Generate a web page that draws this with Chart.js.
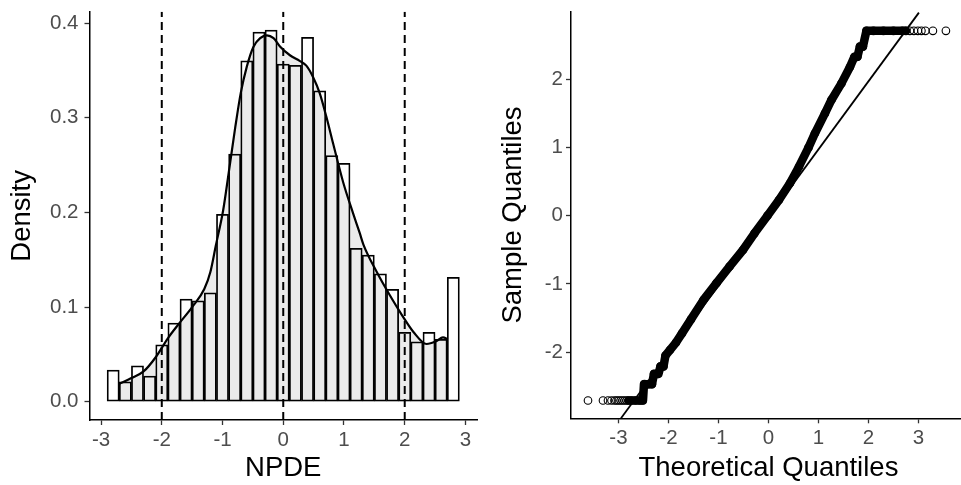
<!DOCTYPE html>
<html><head><meta charset="utf-8">
<script src="https://cdn.jsdelivr.net/npm/chart.js@4.4.0/dist/chart.umd.min.js"></script>
<style>
html,body{margin:0;padding:0;background:#fff;overflow:hidden;width:961px;height:485px}
#wrap{position:relative;width:961px;height:485px;overflow:hidden;background:#fff}
#c1{position:absolute;left:0;top:0}
#c2{position:absolute;left:480px;top:0}
</style></head><body>
<div id="wrap">
<canvas id="c1" width="480" height="485" style="width:480px;height:485px"></canvas>
<canvas id="c2" width="491" height="485" style="width:491px;height:485px"></canvas>
</div>
<script>
// ---------- Histogram panel data ----------
const binCenters = [-2.8,-2.6,-2.4,-2.2,-2.0,-1.8,-1.6,-1.4,-1.2,-1.0,-0.8,-0.6,-0.4,-0.2,0.0,0.2,0.4,0.6,0.8,1.0,1.2,1.4,1.6,1.8,2.0,2.2,2.4,2.6,2.8];
const binDensity = [0.0335,0.021,0.038,0.027,0.060,0.083,0.1085,0.1067,0.115,0.198,0.2616,0.360,0.3905,0.3926,0.3567,0.3553,0.3849,0.3285,0.260,0.2518,0.162,0.155,0.135,0.1187,0.0732,0.0634,0.0732,0.066,0.1314];
const densX = [-2.70,-2.50,-2.30,-2.10,-1.90,-1.71,-1.50,-1.30,-1.20,-1.11,-0.99,-0.90,-0.79,-0.70,-0.60,-0.49,-0.38,-0.27,-0.16,-0.05,0.11,0.27,0.38,0.49,0.60,0.71,0.82,0.99,1.15,1.26,1.32,1.54,1.75,1.97,2.14,2.36,2.52,2.63,2.71];
const densY = [0.019,0.025,0.032,0.047,0.067,0.083,0.100,0.119,0.137,0.165,0.202,0.241,0.290,0.326,0.354,0.375,0.384,0.387,0.384,0.375,0.366,0.360,0.355,0.343,0.326,0.301,0.273,0.231,0.199,0.178,0.166,0.137,0.113,0.090,0.074,0.061,0.064,0.068,0.066];
const refLines = [-2, 0, 2];
const histXTicks = [-3,-2,-1,0,1,2,3];
const histYTicks = [0.0,0.1,0.2,0.3,0.4];
const histXRange = [-3.19, 3.19];
const histYRange = [-0.0193, 0.412];

// ---------- QQ panel data ----------
const qqTheo = [-3.61,-3.31,-3.21,-3.14,-3.08,-3.04,-3.00,-2.96,-2.92,-2.88,-2.84,-2.80,-2.74,-2.66,-2.58,-2.52,
  -2.48,-2.40,-2.33,-2.29,-2.22,-2.16,-2.10,-2.06,-1.97,-1.85,-1.73,-1.55,-1.30,-1.04,-0.78,-0.51,-0.28,-0.02,
  0.21,0.43,0.61,0.80,0.93,1.13,1.26,1.46,1.63,1.72,1.78,1.83,1.89,1.96,2.10,2.30,2.50,2.68,2.75,
  2.83,2.91,2.99,3.06,3.14,3.29,3.55];
const qqSample = [-2.71,-2.71,-2.71,-2.71,-2.71,-2.71,-2.71,-2.71,-2.71,-2.71,-2.71,-2.71,-2.71,-2.71,-2.71,-2.71,
  -2.47,-2.47,-2.47,-2.32,-2.32,-2.21,-2.21,-2.05,-1.97,-1.86,-1.725,-1.52,-1.236,-0.99,-0.747,-0.503,-0.259,0.0,
  0.23,0.475,0.718,0.997,1.208,1.50,1.697,1.94,2.18,2.33,2.33,2.48,2.48,2.71,2.71,2.71,2.71,2.71,2.71,
  2.71,2.71,2.71,2.71,2.71,2.71,2.71];
// dense run of overlapping points (drawn as a solid band)
const bandTheo = [-2.80,-2.51,-2.49,-2.33,-2.29,-2.20,-2.16,-2.10,-2.06,-1.97,-1.85,-1.73,-1.55,-1.30,-1.04,-0.78,-0.51,-0.28,-0.02,0.21,0.43,0.61,0.80,0.93,1.13,1.26,1.46,1.63,1.72,1.78,1.83,1.89,1.96,2.75];
const bandSample = [-2.71,-2.71,-2.47,-2.47,-2.32,-2.32,-2.21,-2.21,-2.05,-1.97,-1.86,-1.725,-1.52,-1.236,-0.99,-0.747,-0.503,-0.259,0.0,0.23,0.475,0.718,0.997,1.208,1.50,1.697,1.94,2.18,2.33,2.33,2.48,2.48,2.71,2.71];
const qqLineTheo = [-2.95, 3.01];
const qqLineSample = [-2.97, 2.977];
const qqXTicks = [-3,-2,-1,0,1,2,3];
const qqYTicks = [-2,-1,0,1,2];
const qqXRange = [-3.95, 3.95];
const qqYRange = [-2.971, 2.991];

// ---------- styling ----------
const FONT = "'Liberation Sans', Arial, Helvetica, sans-serif";
Chart.defaults.font.family = FONT;
const TICK_FONT = {size: 20.5, family: FONT};
const TITLE_FONT = {size: 27.5, family: FONT};
const TICK_COLOR = '#4D4D4D';

const pts = (xs, ys) => xs.map((x, i) => ({x, y: ys[i]}));
const fix = (w, h) => s => {
  if (w != null) s.width = w;
  if (h != null) s.height = h;
  s.paddingTop = 0; s.paddingBottom = 0; s.paddingLeft = 0; s.paddingRight = 0;
};
const setTicks = arr => s => { s.ticks = arr.map(v => ({value: v})); };

function axis(range, ticks, fmt, title, titlePad, size, isY, tickPad) {
  return {
    type: 'linear', min: range[0], max: range[1], offset: false,
    grid: {display: true, offset: false, drawOnChartArea: false, drawTicks: true, tickLength: 5, tickColor: '#333333', tickWidth: 1.3},
    border: {display: true, color: '#000', width: 1.5},
    ticks: {font: TICK_FONT, color: TICK_COLOR, padding: tickPad, callback: fmt, maxRotation: 0, autoSkip: false},
    afterBuildTicks: setTicks(ticks),
    afterFit: isY ? fix(size, null) : fix(null, size),
    title: {display: true, text: title, font: TITLE_FONT, color: '#000', padding: titlePad}
  };
}

// ---------- left: histogram + density ----------
new Chart(document.getElementById('c1'), {
  type: 'bar',
  data: {datasets: [
    {type: 'line', data: pts(densX, densY), fill: 'origin', backgroundColor: '#EBEBEB', borderWidth: 0,
      pointRadius: 0, cubicInterpolationMode: 'monotone', order: 5},
    {type: 'bar', data: pts(binCenters, binDensity), backgroundColor: 'rgba(0,0,0,0)', borderColor: '#000',
      borderWidth: 1.1, borderSkipped: false, barPercentage: 1, categoryPercentage: 1, grouped: false, order: 4},
    ...refLines.map(v => ({type: 'line', data: [{x: v, y: histYRange[0]}, {x: v, y: histYRange[1]}],
      borderColor: '#000', borderWidth: 2, borderDash: [8, 5], pointRadius: 0, fill: false, order: 3})),
    {type: 'line', data: pts(densX, densY), fill: false, borderColor: '#000', borderWidth: 2.2,
      pointRadius: 0, cubicInterpolationMode: 'monotone', order: 1}
  ]},
  options: {
    responsive: false, animation: false,
    layout: {padding: {left: 0, top: 11.7, right: 3, bottom: 0}},
    plugins: {legend: {display: false}, tooltip: {enabled: false}},
    scales: {
      x: axis(histXRange, histXTicks, v => String(v), 'NPDE', {top: 0, bottom: 0}, 65, false, 3),
      y: axis(histYRange, histYTicks, v => v.toFixed(1), 'Density', {top: 6, bottom: 0}, 89.5, true, 6)
    }
  }
});

// ---------- right: QQ plot ----------
new Chart(document.getElementById('c2'), {
  type: 'scatter',
  data: {datasets: [
    {type: 'line', data: pts(bandTheo, bandSample), borderColor: '#000', borderWidth: 8.5,
      borderCapStyle: 'round', borderJoinStyle: 'round', pointRadius: 0, fill: false, order: 3},
    {type: 'scatter', data: pts(qqTheo, qqSample), pointRadius: 3.8, pointBorderWidth: 1.1,
      pointBorderColor: '#000', pointBackgroundColor: 'rgba(0,0,0,0)', order: 2},
    {type: 'line', data: pts(qqLineTheo, qqLineSample), borderColor: '#000', borderWidth: 1.8,
      pointRadius: 0, fill: false, order: 1}
  ]},
  options: {
    responsive: false, animation: false,
    layout: {padding: {left: 0, top: 11.7, right: 0, bottom: 0}},
    plugins: {legend: {display: false}, tooltip: {enabled: false}},
    scales: {
      x: axis(qqXRange, qqXTicks, v => String(v), 'Theoretical Quantiles', {top: 0, bottom: 0}, 66.7, false, 3),
      y: axis(qqYRange, qqYTicks, v => String(v), 'Sample Quantiles', {top: 17, bottom: 0}, 91, true, 3)
    }
  }
});
</script>
</body></html>
